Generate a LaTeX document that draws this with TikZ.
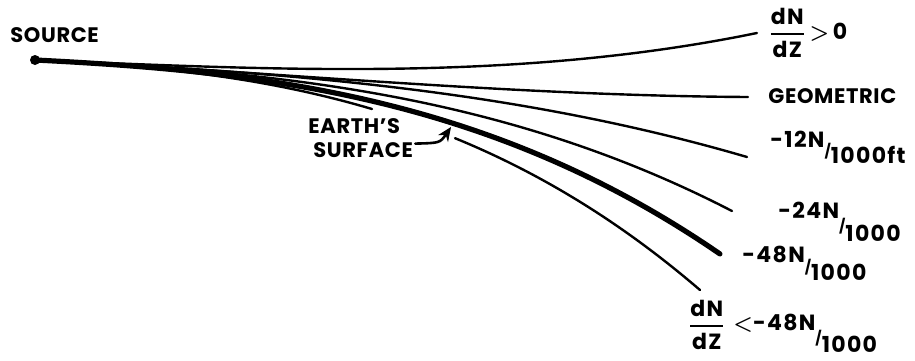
\documentclass[tikz,border=0pt]{standalone}
\usepackage{amsmath}
\usepackage{fontspec}
\setmainfont{Poppins}
\usetikzlibrary{arrows.meta}

\tikzset{
  lbl/.style={font=\bfseries\fontsize{10.5}{12}\selectfont\addfontfeature{LetterSpace=3}, inner sep=0pt},
  vallbl/.style={font=\bfseries\fontsize{11}{12}\selectfont\addfontfeature{LetterSpace=6}, inner sep=0pt},
  ray/.style={line width=1.2pt},
  surface/.style={line width=2.6pt},
}
% numerator up, short slash, denominator down
\newcommand{\gradlbl}[3][8pt]{\raisebox{#1}{#2}\raisebox{.4\dimexpr#1\relax}{\fontsize{7}{7}\selectfont/}#3}
\newcommand{\dndz}{$\genfrac{}{}{1pt}{0}{\mbox{dN}}{\mbox{dZ}}$}

\begin{document}
\begin{tikzpicture}[x=0.5pt,y=-0.5pt,line cap=round,line join=round]
  \useasboundingbox (0,0) rectangle (915,360);
  \node[circle, fill, inner sep=0pt, minimum size=5pt] (source) at (35,60) {};
  \node[lbl, anchor=base west] (sourcelbl) at (10,42) {SOURCE};

  % rays: x = 35+100t, y = 60+At+Bt^2+Ct^3
  \foreach \A/\B/\C/\tend in {4.105/0.146/-0.1707/7.22, 5/0.7025/-0.0948/7.13,
                               5/0.2278/0.1381/7.12, 5/0.484/0.2736/6.97}
    \draw[ray] plot[domain=0:\tend, samples=60, smooth] ({35+100*\x}, {60+\A*\x+\B*\x*\x+\C*\x*\x*\x});
  \draw[surface] plot[domain=0:6.85, samples=60, smooth] ({35+100*\x}, {60+5*\x+0.897*\x*\x+0.366*\x*\x*\x});
  \draw[ray] plot[domain=0:3.37, samples=40, smooth] ({35+100*\x}, {60+5*\x+1.169*\x*\x+0.4933*\x*\x*\x});
  \draw[ray] plot[domain=4.2:6.65, samples=40, smooth] ({35+100*\x}, {60+5*\x+1.169*\x*\x+0.4933*\x*\x*\x});

  % labels at the ends
  \node[vallbl, anchor=west] (pos) at (768,33) {\dndz\,{\boldmath$>$}\,0};
  \node[lbl, anchor=base west] (geo) at (768,103) {GEOMETRIC};
  \node[vallbl, anchor=base west] (n12) at (770,163) {\gradlbl[8pt]{-12N}{1000ft}};
  \node[vallbl, anchor=base west] (n24) at (778,241) {\gradlbl[11.5pt]{-24N}{1000}};
  \node[vallbl, anchor=base west] (n48) at (742,280) {\gradlbl[9pt]{-48N}{1000}};
  \node[vallbl, anchor=east] (neg) at (726,325) {\dndz};
  \node[vallbl, anchor=base west] (nlow) at (733,352) {\gradlbl[11pt]{{\boldmath$<$}-48N}{1000}};

  \node[lbl, anchor=base west] (earth) at (308,133) {EARTH'S};
  \node[lbl, anchor=base west] (surf) at (313,157) {SURFACE};
  \coordinate (hit) at (451,127);
  \draw[line width=1.3pt, -{Stealth[length=7pt,width=6pt]}] (surf.east) ++(2,-6) .. controls (440,143) .. (hit);
\end{tikzpicture}
\end{document}
